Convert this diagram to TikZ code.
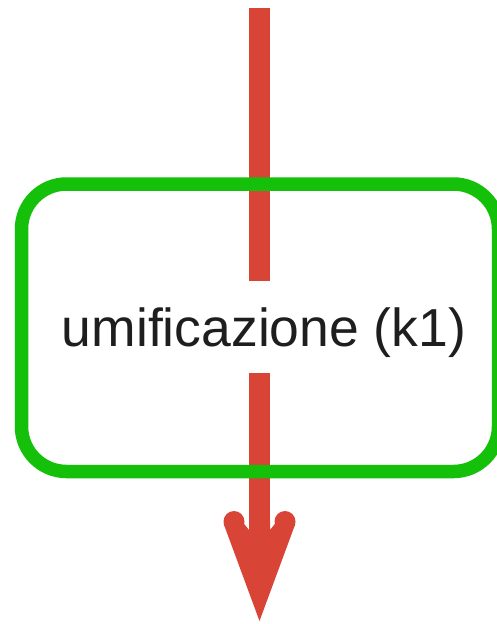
\documentclass[tikz,border=0pt]{standalone}
\usepackage{fontspec}
\setmainfont{Liberation Sans}
\definecolor{flowred}{RGB}{216,68,54}
\definecolor{boxgreen}{RGB}{20,192,10}
\definecolor{labelgray}{RGB}{30,30,30}
\begin{document}
\begin{tikzpicture}[x=1pt,y=-1pt,
  shaft/.style={fill=flowred},
  stepframe/.style={draw=boxgreen,line width=13.5pt,rounded corners=45pt},
  steplabel/.style={font=\fontsize{53.5pt}{60pt}\selectfont,text=labelgray,inner sep=0pt,anchor=base}]
  \useasboundingbox (0,0) rectangle (497,624);
  % flow line: upper and lower parts
  \coordinate (src) at (259.5,8);
  \coordinate (gapA) at (259.5,281);
  \coordinate (gapB) at (259.5,373);
  \coordinate (neck) at (259.5,521);
  \coordinate (tip) at (259.5,621);
  \coordinate (barbL) at (234,521.5);
  \coordinate (barbR) at (285,521.5);
  \fill[shaft] ([xshift=-10.5pt]src) rectangle ([xshift=10.5pt]gapA);
  \fill[shaft] ([xshift=-10.5pt]gapB) rectangle ([xshift=10.5pt]neck);
  % arrow head with rounded barbs
  \fill[shaft] (tip) -- (223.7,524) -- (234,511) -- (249,530) -- (249,521)
     -- (270,521) -- (270,530) -- (285,511) -- (295.3,524) -- cycle;
  \fill[shaft] (barbL) circle[radius=10.5];
  \fill[shaft] (barbR) circle[radius=10.5];
  % process box
  \draw[stepframe] (21.5,184) rectangle (498.5,471.5);
  \node[steplabel] (lbl) at (264,346) {umificazione (k1)};
\end{tikzpicture}
\end{document}
